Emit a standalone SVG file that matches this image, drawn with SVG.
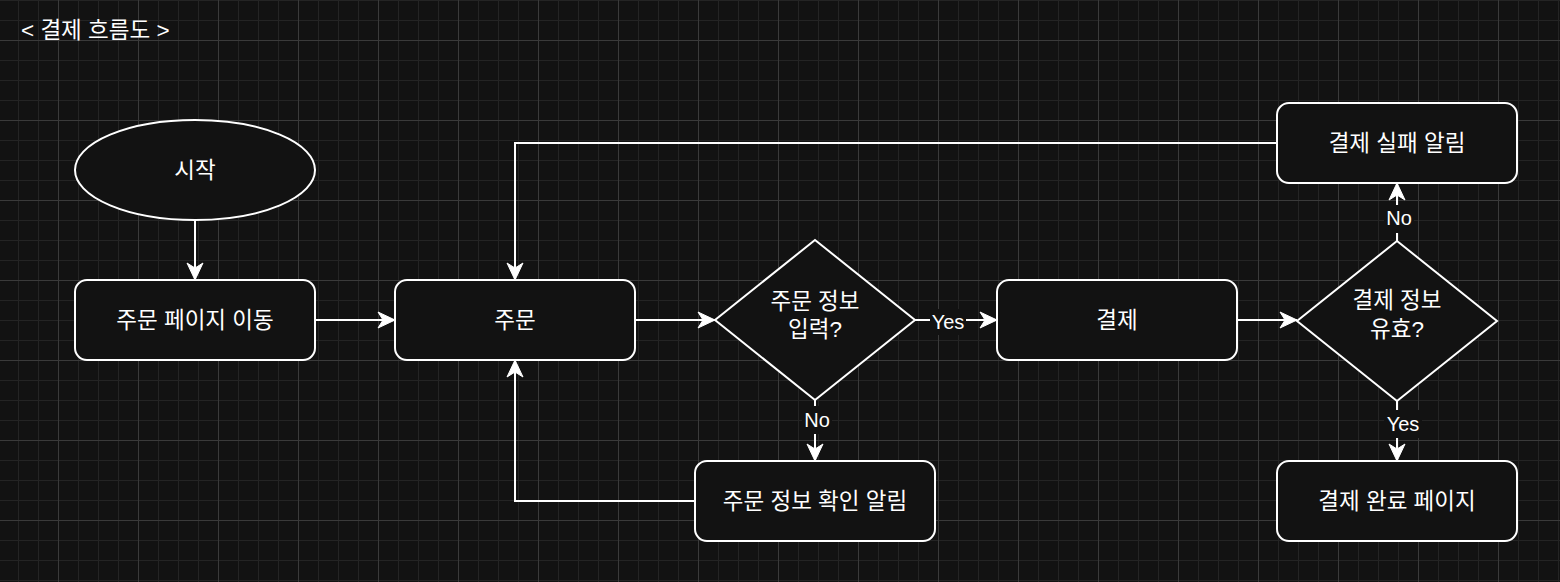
<svg xmlns="http://www.w3.org/2000/svg" width="1560" height="582" viewBox="0 0 1560 582">
<defs>
<pattern id="grid" x="-22" y="-40" width="80" height="80" patternUnits="userSpaceOnUse">
<path d="M20.5 0V80M40.5 0V80M60.5 0V80M0 20.5H80M0 40.5H80M0 60.5H80" stroke="#242424" stroke-width="1" fill="none"/>
<path d="M0.5 0V80M0 0.5H80" stroke="#3a3a3a" stroke-width="1" fill="none"/>
</pattern>
<marker id="arr" markerUnits="userSpaceOnUse" markerWidth="20" markerHeight="20" viewBox="-18 -10 20 20" refX="0" refY="0" orient="auto">
<path d="M0 0L-17 -8L-12 0L-17 8Z" fill="#ffffff" stroke="#ffffff" stroke-width="1" stroke-linejoin="miter"/>
</marker>
</defs>
<style>
.node{fill:#121212;stroke:#ffffff;stroke-width:2}
.t{fill:#ffffff;font-family:"Liberation Sans","Noto Sans CJK KR",sans-serif;font-size:22.5px;text-anchor:middle}
.l{fill:#ffffff;font-family:"Liberation Sans","Noto Sans CJK KR",sans-serif;font-size:20px;text-anchor:middle}
.title{fill:#ffffff;font-family:"Liberation Sans","Noto Sans CJK KR",sans-serif;font-size:22.5px}
.edge{fill:none;stroke:#ffffff;stroke-width:2;marker-end:url(#arr)}
.lbg{fill:#121212}
</style>
<rect width="1560" height="582" fill="#121212"/>
<rect width="1560" height="582" fill="url(#grid)"/>
<text class="title" x="21" y="38">&lt; 결제 흐름도 &gt;</text>
<g id="connectors">
<path class="edge" d="M195 220V280"/>
<path class="edge" d="M315 320H395"/>
<path class="edge" d="M635 320H715"/>
<path class="edge" d="M915 320H997"/>
<path class="edge" d="M815 400V461"/>
<path class="edge" d="M695 501H515V360"/>
<path class="edge" d="M1237 320H1297"/>
<path class="edge" d="M1397 241V183"/>
<path class="edge" d="M1397 400V461"/>
<path class="edge" d="M1277 143H515V280"/>
<rect class="lbg" x="930" y="309" width="36" height="26"/>
<text class="l" x="948" y="329">Yes</text>
<rect class="lbg" x="802" y="406" width="30" height="28"/>
<text class="l" x="817" y="427">No</text>
<rect class="lbg" x="1384" y="205" width="30" height="28"/>
<text class="l" x="1399" y="225">No</text>
<rect class="lbg" x="1384" y="410" width="38" height="28"/>
<text class="l" x="1403" y="431">Yes</text>
</g>
<g id="start">
<ellipse class="node" cx="195" cy="170" rx="120" ry="50"/>
<text class="t" x="195" y="178">시작</text>
</g>
<g id="order-page">
<rect class="node" x="75" y="280" width="240" height="80" rx="12"/>
<text class="t" x="195" y="328">주문 페이지 이동</text>
</g>
<g id="order">
<rect class="node" x="395" y="280" width="240" height="80" rx="12"/>
<text class="t" x="515" y="328">주문</text>
</g>
<g id="order-info-check">
<path class="node" d="M815 240L915 320L815 400L715 320Z"/>
<text class="t" x="815" y="309">주문 정보</text>
<text class="t" x="815" y="337">입력?</text>
</g>
<g id="order-info-alert">
<rect class="node" x="695" y="461" width="240" height="80" rx="12"/>
<text class="t" x="815" y="509">주문 정보 확인 알림</text>
</g>
<g id="payment">
<rect class="node" x="997" y="280" width="240" height="80" rx="12"/>
<text class="t" x="1117" y="328">결제</text>
</g>
<g id="payment-valid">
<path class="node" d="M1397 241L1497 321L1397 401L1297 321Z"/>
<text class="t" x="1397" y="308">결제 정보</text>
<text class="t" x="1397" y="337">유효?</text>
</g>
<g id="payment-fail">
<rect class="node" x="1277" y="103" width="240" height="80" rx="12"/>
<text class="t" x="1397" y="151">결제 실패 알림</text>
</g>
<g id="payment-done">
<rect class="node" x="1277" y="461" width="240" height="80" rx="12"/>
<text class="t" x="1397" y="509">결제 완료 페이지</text>
</g>
</svg>
